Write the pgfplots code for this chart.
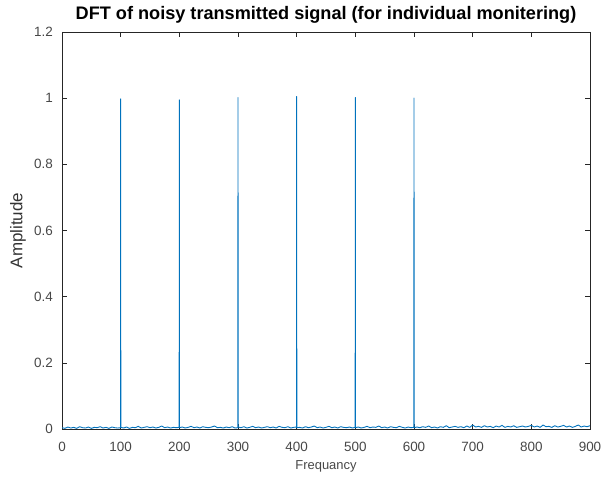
\documentclass[border=0pt]{standalone}
\usepackage{pgfplots}
\pgfplotsset{compat=1.18}
\usepackage{fontspec}
\setmainfont{Liberation Sans}
\definecolor{mline}{rgb}{0,0.447,0.741}
\definecolor{axgray}{rgb}{0.15,0.15,0.15}
\begin{document}
\begin{tikzpicture}[x=1bp,y=1bp]
\begin{axis}[
  name=ax,
  scale only axis,
  width=528bp, height=397bp,
  xmin=0, xmax=900, ymin=0, ymax=1.2,
  xtick={0,100,...,900},
  ytick={0,0.2,...,1.2},
  yticklabels={0,0.2,0.4,0.6,0.8,1,1.2},
  tick align=inside,
  tick pos=both,
  major tick length=5bp,
  axis line style={axgray, line width=0.6pt},
  every tick/.style={axgray, line width=0.5pt},
  tick label style={font=\fontsize{13.5}{15}\selectfont, text=black!72},
  xticklabel style={anchor=center, inner sep=0pt, yshift=-18bp},
  yticklabel style={anchor=east, inner sep=0pt, xshift=-9bp},
  /pgf/number format/assume math mode=true,
  title={\bfseries DFT of noisy transmitted signal (for individual monitering)},
  title style={font=\fontsize{18.2}{20}\selectfont, at={(axis description cs:0.5,1)},
    anchor=center, yshift=11bp},
  xlabel={Frequancy},
  ylabel={Amplitude},
  xlabel style={font=\fontsize{13}{15}\selectfont, text=black!72,
    at={(axis description cs:0.5,0)}, anchor=center, yshift=-37bp},
  ylabel style={font=\fontsize{17}{19}\selectfont, text=black!80,
    at={(axis description cs:-0.0833,0.5)}, anchor=center},
]
\addplot[mline, line width=0.9pt, line join=round] coordinates {
(0,0.004)(5,0.002)(10,0.006)(15,0.003)(20,0.005)(25,0.002)(30,0.007)(35,0.004)(40,0.003)(45,0.006)
(50,0.002)(55,0.005)(60,0.004)(65,0.007)(70,0.003)(75,0.005)(80,0.002)(85,0.006)(90,0.004)(95,0.003)
(99.7,0.004)(100,0.998)(100.3,0.005)
(105,0.003)(110,0.006)(115,0.002)(120,0.005)(125,0.004)(130,0.008)(135,0.003)(140,0.005)(145,0.007)
(150,0.004)(155,0.006)(160,0.003)(165,0.005)(170,0.009)(175,0.004)(180,0.006)(185,0.003)(190,0.005)(195,0.004)
(199.7,0.005)(200,0.995)(200.3,0.004)
(205,0.006)(210,0.003)(215,0.005)(220,0.008)(225,0.004)(230,0.006)(235,0.003)(240,0.007)(245,0.005)
(250,0.004)(255,0.006)(260,0.009)(265,0.004)(270,0.005)(275,0.003)(280,0.006)(285,0.004)(290,0.007)(295,0.003)
(299.7,0.004)(300,1.002)(300.3,0.006)
(305,0.004)(310,0.007)(315,0.003)(320,0.005)(325,0.008)(330,0.004)(335,0.006)(340,0.003)(345,0.005)
(350,0.007)(355,0.004)(360,0.006)(365,0.003)(370,0.008)(375,0.005)(380,0.004)(385,0.007)(390,0.003)(395,0.005)
(399.7,0.006)(400,1.005)(400.3,0.004)
(405,0.005)(410,0.003)(415,0.007)(420,0.004)(425,0.006)(430,0.009)(435,0.004)(440,0.006)(445,0.003)
(450,0.005)(455,0.008)(460,0.004)(465,0.006)(470,0.003)(475,0.007)(480,0.005)(485,0.004)(490,0.006)(495,0.003)
(499.7,0.005)(500,1.002)(500.3,0.004)
(505,0.006)(510,0.003)(515,0.005)(520,0.008)(525,0.004)(530,0.006)(535,0.005)(540,0.009)(545,0.004)
(550,0.006)(555,0.003)(560,0.007)(565,0.005)(570,0.004)(575,0.008)(580,0.005)(585,0.003)(590,0.006)(595,0.004)
(599.7,0.005)(600,1.000)(600.3,0.004)
(605,0.006)(610,0.004)(615,0.007)(620,0.005)(625,0.009)(630,0.004)(635,0.006)(640,0.003)(645,0.007)
(650,0.005)(655,0.010)(660,0.004)(665,0.006)(670,0.008)(675,0.005)(680,0.007)(685,0.004)(690,0.009)(695,0.005)
(700,0.012)(705,0.006)(710,0.008)(715,0.005)(720,0.010)(725,0.006)(730,0.008)(735,0.004)(740,0.009)(745,0.006)
(750,0.011)(755,0.005)(760,0.008)(765,0.006)(770,0.010)(775,0.005)(780,0.007)(785,0.009)(790,0.006)(795,0.008)
(800,0.011)(805,0.006)(810,0.009)(815,0.005)(820,0.012)(825,0.007)(830,0.008)(835,0.005)(840,0.010)(845,0.006)
(850,0.008)(855,0.011)(860,0.006)(865,0.009)(870,0.005)(875,0.008)(880,0.012)(885,0.006)(890,0.009)(895,0.007)(900,0.010)
};
\end{axis}
% fixed page frame around the axis box
\pgfresetboundingbox
\path[use as bounding box] ([shift={(-62bp,-47bp)}]ax.south west)
  rectangle ([shift={(13bp,32bp)}]ax.north east);
\end{tikzpicture}
\end{document}
